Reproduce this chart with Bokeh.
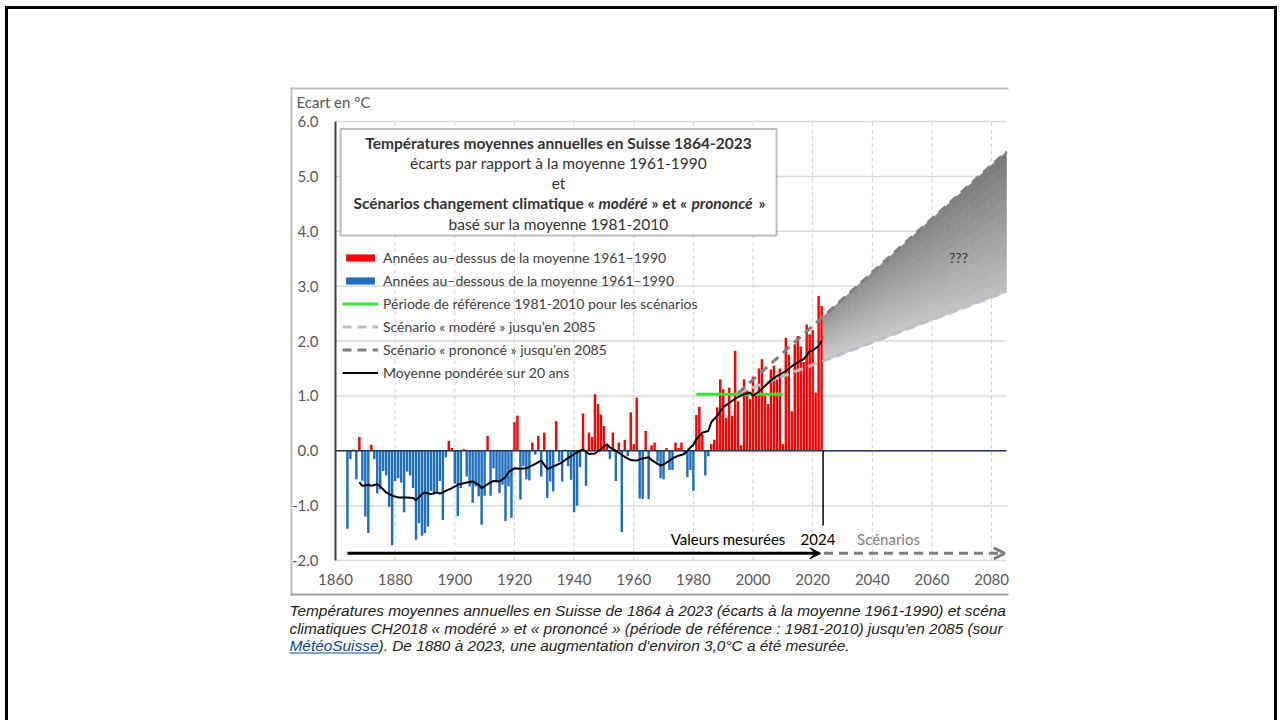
import numpy as np
from bokeh.plotting import figure
from bokeh.models import (ColumnDataSource, Label, BoxAnnotation, Arrow, VeeHead,
                          OpenHead, Legend, LegendItem, FixedTicker)
from bokeh.embed import file_html
from bokeh.resources import INLINE

# ---------------- data ----------------
years = list(range(1864, 2024))
anomalies = [
    -1.42, -0.15, 0.02, -0.52, 0.25, -0.55, -1.20, -1.50, 0.11, -0.15, -0.78, -0.70, -0.37, -0.45, -1.02, -1.72,
    -0.55, -0.50, -0.58, -1.12, -0.38, -0.45, -0.68, -1.62, -1.32, -1.55,
    -1.50, -1.38, -0.73, -0.80, -0.75, -0.55, -1.26, -0.12, 0.18, 0.05,
    -0.60, -1.19, -0.68, 0.03, -0.47, -0.65, -0.95, -0.65, -0.83, -1.35,
    -0.82, 0.27, -0.82, -0.32, -0.56, -0.77, -0.62, -1.28, -0.65, -1.22,
    0.52, 0.64, -0.89, -0.28, -0.52, -0.54, 0.15, -0.07, 0.27, -0.47,
    0.33, -0.86, -0.56, -0.74, 0.54, -0.20, -0.56, 0.02, -0.28, -0.53,
    -1.12, -1.00, -0.30, 0.68, -0.64, 0.33, 0.25, 1.03, 0.85, 0.66,
    0.45, 0.10, -0.15, 0.33, -0.55, 0.15, -1.48, 0.20, -0.10, 0.70,
    0.12, 0.97, -0.87, -0.88, 0.36, -0.88, 0.10, 0.15, -0.20, -0.50,
    -0.52, 0.05, -0.35, -0.35, 0.15, 0.05, 0.15, -0.05, -0.48, -0.35,
    -0.73, 0.65, 0.80, 0.30, -0.45, -0.10, 0.12, 0.20, 0.79, 1.30,
    1.12, 0.60, 1.15, 0.64, 1.82, 0.90, 0.10, 1.30, 1.10, 0.94,
    1.35, 1.00, 1.50, 1.67, 1.00, 0.85, 1.48, 1.55, 1.30, 1.50,
    0.12, 2.06, 1.75, 0.72, 1.94, 2.09, 1.90, 1.62, 2.30, 2.12,
    2.20, 1.06, 2.82, 2.64,
]

ma_years = [1868, 1869, 1871, 1872, 1874, 1875, 1877, 1879, 1881, 1884, 1886, 1887, 1889, 1890,
            1892, 1894, 1895, 1897, 1899, 1901, 1904, 1906, 1908, 1909, 1911, 1913, 1915, 1917,
            1918, 1920, 1922, 1924, 1927, 1929, 1931, 1933, 1936, 1938, 1940, 1942, 1943, 1945,
            1947, 1949, 1951, 1952, 1954, 1957, 1959, 1961, 1963, 1965, 1966, 1969, 1970, 1972,
            1973, 1975, 1977, 1979, 1980, 1981, 1983, 1985, 1986, 1988, 1990, 1993, 1995, 1997,
            1999, 2000, 2002, 2004, 2006, 2008, 2011, 2013, 2015, 2017, 2019, 2020, 2022, 2023]
ma_values = [-0.57, -0.64, -0.62, -0.64, -0.61, -0.65, -0.76, -0.82, -0.85, -0.85, -0.86, -0.90, -0.79, -0.76,
             -0.79, -0.76, -0.78, -0.73, -0.68, -0.62, -0.58, -0.56, -0.62, -0.68, -0.61, -0.55, -0.56, -0.48,
             -0.39, -0.32, -0.33, -0.32, -0.24, -0.18, -0.33, -0.29, -0.21, -0.13, -0.06, 0.00, 0.02, -0.06,
             -0.05, 0.03, 0.12, 0.06, 0.00, -0.11, -0.17, -0.18, -0.14, -0.12, -0.17, -0.27, -0.25, -0.18,
             -0.14, -0.09, -0.06, 0.06, 0.11, 0.21, 0.33, 0.36, 0.52, 0.64, 0.79, 0.91, 0.98, 1.03,
             1.06, 1.00, 1.08, 1.18, 1.28, 1.36, 1.45, 1.54, 1.61, 1.67, 1.81, 1.83, 1.91, 2.00]

ref_period = [1981, 2010]
ref_mean = [1.03, 1.03]

scen_years = [1995, 2085]
scen_moderate = [1.05, 2.90]
scen_pronounced = [1.05, 5.45]

x_ticks = [1860, 1880, 1900, 1920, 1940, 1960, 1980, 2000, 2020, 2040, 2060, 2080]
y_ticks = [-2, -1, 0, 1, 2, 3, 4, 5, 6]
y_tick_labels = ["-2.0", "-1.0", "0.0", "1.0", "2.0", "3.0", "4.0", "5.0", "6.0"]

first_scenario_year = 2024
arrow_level = -1.87

title_lines = [
    "Températures moyennes annuelles en Suisse 1864-2023",
    "écarts par rapport à la moyenne 1961-1990",
    "et",
    "basé sur la moyenne 1981-2010",
]
legend_labels = [
    "Années au–dessus de la moyenne 1961–1990",
    "Années au–dessous de la moyenne 1961–1990",
    "Période de référence 1981-2010 pour les scénarios",
    "Scénario « modéré » jusqu’en 2085",
    "Scénario « prononcé » jusqu’en 2085",
    "Moyenne pondérée sur 20 ans",
]
caption_1 = "Températures moyennes annuelles en Suisse de 1864 à 2023 (écarts à la moyenne 1961-1990) et scéna"
caption_2 = "climatiques CH2018 « modéré » et « prononcé » (période de référence : 1981-2010) jusqu'en 2085 (sour"
caption_link = "MétéoSuisse"
caption_3 = "). De 1880 à 2023, une augmentation d'environ 3,0°C a été mesurée."

# ---------------- page geometry (page pixels) ----------------
W, H = 1280, 720
L_BORDER, B_BORDER = 45, 35              # side panels for the axes
FL, FR, FT, FB = 335, 1006, 121, 560     # where the chart's plot area sits
X0, X1, Y0, Y1 = 1860, 2085, -2, 6
PPX = (FR - FL) / (X1 - X0)
PPY = (FB - FT) / (Y1 - Y0)


def dx(px):
    return X0 + (px - FL) / PPX


def dy(py):
    return Y0 + (FB - py) / PPY


FONT = "Lato"
p = figure(width=W, height=H,
           x_range=(dx(L_BORDER), dx(W)), y_range=(dy(H - B_BORDER), dy(0)),
           output_backend="svg", toolbar_location=None,
           min_border_left=L_BORDER, min_border_right=0,
           min_border_top=0, min_border_bottom=B_BORDER)
p.outline_line_color = None
p.background_fill_alpha = 0
p.border_fill_alpha = 0
# black frame of the slide (top, left, right) painted behind the transparent canvas
p.styles = {"background": ", ".join([
    "linear-gradient(#000, #000) 5px 6px / 1272px 3px no-repeat",
    "linear-gradient(#000, #000) 5px 6px / 3px 720px no-repeat",
    "linear-gradient(#000, #000) 1274px 6px / 3px 720px no-repeat",
])}
p.xgrid.visible = False
p.ygrid.visible = False

# axes (kept in side panels, drawn at fixed data positions)
p.yaxis.fixed_location = X0
p.yaxis.bounds = (Y0, Y1)
p.yaxis.ticker = FixedTicker(ticks=y_ticks)
p.yaxis.major_label_overrides = {t: l for t, l in zip(y_ticks, y_tick_labels)}
p.yaxis.axis_line_color = "#404040"
p.yaxis.axis_line_width = 2
p.yaxis.major_tick_line_color = None
p.yaxis.major_tick_out = 0
p.yaxis.major_tick_in = 0
p.yaxis.minor_tick_line_color = None
p.yaxis.major_label_standoff = 17
p.yaxis.major_label_text_font = FONT
p.yaxis.major_label_text_font_size = "15px"
p.yaxis.major_label_text_color = "#595959"

p.xaxis.fixed_location = Y0
p.xaxis.bounds = (X0, X1)
p.xaxis.ticker = FixedTicker(ticks=x_ticks)
p.xaxis.axis_line_color = None
p.xaxis.major_tick_line_color = None
p.xaxis.major_tick_out = 0
p.xaxis.major_tick_in = 0
p.xaxis.minor_tick_line_color = None
p.xaxis.major_label_standoff = 13
p.xaxis.major_label_text_font = FONT
p.xaxis.major_label_text_font_size = "15px"
p.xaxis.major_label_text_color = "#595959"

# white chart area and grid lines limited to the plot area
p.add_layout(BoxAnnotation(left=dx(290), right=dx(1006), top=dy(87), bottom=dy(595),
                           fill_color="white", fill_alpha=1, line_color=None, level="underlay"))
p.segment(x0=X0, x1=X1, y0=y_ticks, y1=y_ticks, line_color="#d9d9d9", line_width=1.5)
p.segment(x0=x_ticks[1:], x1=x_ticks[1:], y0=Y0, y1=Y1, line_color="#d0d0d0",
          line_width=1, line_dash="4 3")

# bars
yrs = np.array(years)
vals = np.array(anomalies)
up = ColumnDataSource(dict(x=yrs[vals >= 0], top=vals[vals >= 0]))
down = ColumnDataSource(dict(x=yrs[vals < 0], top=vals[vals < 0]))
r_up = p.vbar(x="x", top="top", bottom=0, width=0.82, source=up,
              fill_color="#ff0000", line_color=None)
r_down = p.vbar(x="x", top="top", bottom=0, width=0.82, source=down,
                fill_color="#1f6fc0", line_color=None)

# zero line
p.segment(x0=[X0], x1=[X1], y0=[0], y1=[0], line_color="#1f3864", line_width=1.5)

# scenario fill (gradient imitation by a grid of small patches)
xs_cells, ys_cells, cols = [], [], []
x_start = first_scenario_year - 0.5
nx, ny = 30, 12
xe = np.linspace(x_start, X1, nx + 1)
lo = np.interp(xe, scen_years, scen_moderate)
hi = np.interp(xe, scen_years, scen_pronounced)
for i in range(nx):
    for j in range(ny):
        t0, t1 = j / ny, (j + 1) / ny
        a0 = lo[i] + (hi[i] - lo[i]) * t0
        a1 = lo[i] + (hi[i] - lo[i]) * t1
        b0 = lo[i + 1] + (hi[i + 1] - lo[i + 1]) * t0
        b1 = lo[i + 1] + (hi[i + 1] - lo[i + 1]) * t1
        xs_cells.append([xe[i], xe[i + 1], xe[i + 1], xe[i]])
        ys_cells.append([a0, b0, b1, a1])
        t = (j + 0.5) / ny
        s = (i + 0.5) / nx
        g = int(206 - 58 * t - 14 * s - 14 * t * s)
        cols.append("#%02x%02x%02x" % (g, g, g))
p.patches(xs=xs_cells, ys=ys_cells, fill_color=cols, line_color=cols, line_width=0.6)
p.line(x=[x_start, X1], y=list(np.interp([x_start, X1], scen_years, scen_moderate)),
       line_color="#b4c7e7", line_width=1.5)

# reference period, scenarios, moving average
r_ref = p.line(x=ref_period, y=ref_mean, line_color="#33e633", line_width=3)
r_mod = p.line(x=scen_years, y=scen_moderate, line_color="#bfbfbf", line_width=3, line_dash="9 6")
r_pro = p.line(x=scen_years, y=scen_pronounced, line_color="#7f7f7f", line_width=3, line_dash="9 6")
r_ma = p.line(x=ma_years, y=ma_values, line_color="black", line_width=2)

# vertical separator and arrows
sep_x = years[-1] + 0.5
p.segment(x0=[sep_x], y0=[0], x1=[sep_x], y1=[dy(525)], line_color="black", line_width=1.5)
p.add_layout(Arrow(end=VeeHead(size=11, fill_color="black", line_color="black"),
                   x_start=years[0], y_start=arrow_level, x_end=sep_x - 0.8, y_end=arrow_level,
                   line_color="black", line_width=3))
p.add_layout(Arrow(end=OpenHead(size=11, line_color="#7f7f7f", line_width=3),
                   x_start=sep_x + 0.3, y_start=arrow_level, x_end=X1 - 0.6, y_end=arrow_level,
                   line_color="#7f7f7f", line_width=3, line_dash="9 6"))


def lab(px, py, text, size="15px", color="#404040", align="center", style="normal", font=FONT):
    p.add_layout(Label(x=dx(px), y=dy(py), text=text, text_font=font, text_font_size=size,
                       text_color=color, text_align=align, text_baseline="middle",
                       text_font_style=style))


def strip(l, r, t, b, color):
    p.add_layout(BoxAnnotation(left=dx(l), right=dx(r), top=dy(t), bottom=dy(b),
                               fill_color=color, fill_alpha=1, line_color=None))


lab(727.5, 538.5, "Valeurs mesurées", color="black")
lab(817.5, 538.5, str(first_scenario_year), color="black")
lab(888, 538.5, "Scénarios", color="#808080")
lab(958, 257, "???", size="14px", color="#333333")
lab(296, 101, "Ecart en °C", color="#595959", align="left")

# title box
p.add_layout(BoxAnnotation(left=dx(340), right=dx(776), top=dy(128.5), bottom=dy(235),
                           fill_color="white", fill_alpha=1, line_color="#222222", line_width=2))
TS = "15.5px"
lab(558, 142.5, title_lines[0], size=TS, style="bold", color="#333333")
lab(558, 162.5, title_lines[1], size=TS, color="#333333")
lab(558, 182.5, title_lines[2], size=TS, color="#333333")
lab(594, 202.5, "Scénarios changement climatique «", size=TS, style="bold", color="#333333", align="right")
lab(598, 202.5, "modéré", size=TS, style="bold italic", color="#333333", align="left")
lab(651, 202.5, "» et «", size=TS, style="bold", color="#333333", align="left")
lab(691, 202.5, "prononcé", size=TS, style="bold italic", color="#333333", align="left")
lab(758, 202.5, "»", size=TS, style="bold", color="#333333", align="left")
lab(558, 223.5, title_lines[3], size=TS, color="#333333")

# legend
items = [LegendItem(label=t, renderers=[r]) for t, r in
         zip(legend_labels, [r_up, r_down, r_ref, r_mod, r_pro, r_ma])]
legend = Legend(items=items, location=(342 - L_BORDER, H - B_BORDER - 381), orientation="vertical",
                background_fill_alpha=0, border_line_color=None, padding=0, margin=0,
                spacing=6, glyph_width=36, glyph_height=9, label_height=9, label_standoff=5,
                label_text_font=FONT, label_text_font_size="14px", label_text_color="#404040")
p.add_layout(legend)

# chart image border (top, left, bottom)
strip(290, 1008, 87, 89, "#c0c0c0")
strip(290, 292, 87, 595, "#c0c0c0")
strip(290, 1008, 593, 595, "#a0a0a0")

# caption
CAP = "Liberation Sans"
CS = "15.4px"
lab(289, 610, caption_1, size=CS, color="#222222", align="left", style="italic", font=CAP)
lab(289, 627.5, caption_2, size=CS, color="#222222", align="left", style="italic", font=CAP)
lab(289, 645, caption_link, size=CS, color="#0645ad", align="left", style="italic", font=CAP)
lab(378, 645, caption_3, size=CS, color="#222222", align="left", style="italic", font=CAP)
strip(289, 377, 652, 653, "#0645ad")

open("out.html", "w").write(file_html(p, INLINE))
